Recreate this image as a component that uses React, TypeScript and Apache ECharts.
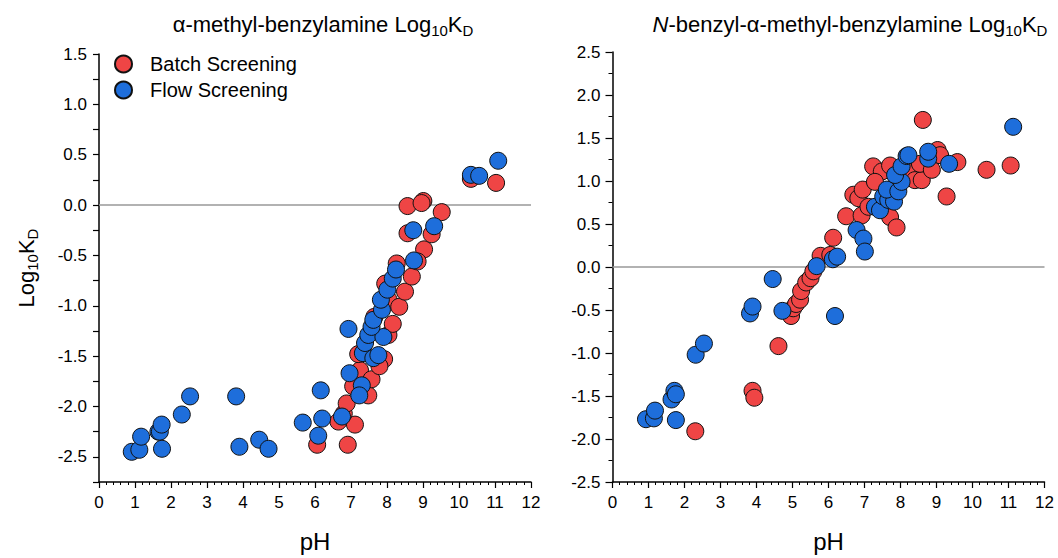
import React, { useEffect, useRef } from "react";
import * as echarts from "echarts";

// α-methyl-benzylamine (left panel)
const leftBatchPH = [6.06, 6.91, 6.65, 7.11, 6.80, 6.88, 7.06, 7.25, 7.48, 7.57, 7.20, 7.80, 7.92, 7.65, 8.04, 8.16, 8.04, 8.34, 8.50, 7.95, 8.27, 8.69, 9.03, 8.57, 9.24, 8.57, 9.01, 8.96, 9.52, 10.33, 11.03, 8.85, 7.79];
const leftBatchLogKD = [-2.38, -2.38, -2.15, -2.18, -2.07, -1.97, -1.80, -1.64, -1.89, -1.73, -1.48, -1.57, -1.53, -1.11, -1.29, -1.18, -0.94, -1.01, -0.86, -0.78, -0.58, -0.71, -0.44, -0.28, -0.29, -0.01, 0.04, 0.02, -0.07, 0.26, 0.22, -0.56, -1.60];
const leftFlowPH = [0.91, 1.12, 1.17, 1.65, 1.69, 1.74, 1.75, 2.30, 2.53, 3.81, 3.90, 4.45, 4.71, 5.66, 6.09, 6.16, 6.20, 6.75, 6.96, 7.30, 7.23, 6.93, 7.33, 7.62, 7.76, 7.39, 7.48, 7.90, 7.57, 7.62, 7.86, 7.83, 8.01, 8.16, 8.25, 8.75, 8.73, 9.31, 10.33, 10.56, 11.09];
const leftFlowLogKD = [-2.45, -2.43, -2.30, -2.25, -2.25, -2.18, -2.42, -2.08, -1.90, -1.90, -2.40, -2.33, -2.42, -2.16, -2.29, -1.84, -2.12, -2.10, -1.67, -1.79, -1.89, -1.23, -1.47, -1.52, -1.49, -1.37, -1.29, -1.31, -1.21, -1.14, -1.04, -0.94, -0.84, -0.73, -0.64, -0.55, -0.25, -0.21, 0.30, 0.29, 0.44];

// N-benzyl-α-methyl-benzylamine (right panel)
const rightBatchPH = [2.30, 3.89, 3.94, 4.61, 4.96, 5.02, 5.10, 5.21, 5.24, 5.38, 5.50, 5.58, 5.78, 6.05, 6.13, 6.49, 6.92, 6.69, 6.83, 6.95, 7.11, 7.24, 7.48, 7.29, 7.71, 7.71, 7.89, 8.31, 8.40, 8.59, 8.54, 8.62, 8.87, 9.03, 9.10, 9.28, 9.58, 10.39, 11.06];
const rightBatchLogKD = [-1.91, -1.44, -1.52, -0.92, -0.57, -0.48, -0.43, -0.38, -0.28, -0.18, -0.13, -0.05, 0.13, 0.14, 0.34, 0.59, 0.60, 0.84, 0.80, 0.90, 0.70, 1.17, 1.11, 0.99, 1.18, 0.58, 0.46, 1.11, 1.01, 1.01, 1.20, 1.71, 1.13, 1.36, 1.30, 0.82, 1.22, 1.13, 1.18];
const rightFlowPH = [0.93, 1.15, 1.18, 1.64, 1.72, 1.76, 1.76, 2.31, 2.54, 3.82, 3.89, 4.45, 4.72, 5.67, 6.18, 6.12, 6.24, 6.78, 6.97, 7.01, 7.29, 7.43, 7.52, 7.66, 7.82, 7.62, 7.94, 8.03, 7.85, 8.03, 8.17, 8.22, 8.77, 8.77, 9.35, 11.13];
const rightFlowLogKD = [-1.77, -1.76, -1.67, -1.54, -1.44, -1.48, -1.78, -1.02, -0.89, -0.54, -0.46, -0.14, -0.51, 0.01, -0.57, 0.09, 0.12, 0.43, 0.33, 0.18, 0.70, 0.66, 0.82, 0.78, 0.76, 0.90, 0.88, 0.99, 1.07, 1.17, 1.29, 1.30, 1.26, 1.34, 1.20, 1.63];

const seriesNames = ["Batch Screening", "Flow Screening"];
const xTicks = { min: 0, max: 12, interval: 1 };
const leftY = { min: -2.75, max: 1.5, interval: 0.25 };
const rightY = { min: -2.5, max: 2.5, interval: 0.5 };

const FONT = "Liberation Sans, Arial, sans-serif";
const RED = "#EF4545";
const BLUE = "#1E6EDB";

const zip = (xs: number[], ys: number[]) => xs.map((x, i) => [x, ys[i]]);

export default function App() {
  const ref = useRef<HTMLDivElement>(null);
  useEffect(() => {
    const chart = echarts.init(ref.current!, null, { renderer: "svg" });

    const xAxisBase = (gridIndex: number) => ({
      type: "value",
      gridIndex,
      min: xTicks.min,
      max: xTicks.max,
      interval: xTicks.interval,
      name: "pH",
      nameLocation: "middle",
      nameGap: 47,
      nameTextStyle: { fontSize: 24, color: "#000", fontFamily: FONT },
      axisLine: { show: true, onZero: false, lineStyle: { color: "#000", width: 1.5 } },
      axisTick: { show: true, inside: false, length: 6, lineStyle: { color: "#000", width: 1.2 } },
      minorTick: { show: true, splitNumber: 5, length: 3, lineStyle: { color: "#000", width: 1 } },
      axisLabel: { color: "#000", fontSize: 17, fontFamily: FONT, margin: 12 },
      splitLine: { show: false },
      minorSplitLine: { show: false },
    });

    const labelFmt = (v: number) =>
      Math.abs(v * 2 - Math.round(v * 2)) < 1e-6 ? v.toFixed(1) : "";

    const ySub = {
      a: { fontSize: 22, color: "#000", fontFamily: FONT, fontWeight: "normal", lineHeight: 27 },
      s: { fontSize: 15, color: "#000", fontFamily: FONT, fontWeight: "normal", lineHeight: 8, verticalAlign: "bottom" },
    };

    const titleRich = {
      a: { fontSize: 22, color: "#000", fontFamily: FONT, fontWeight: "normal", lineHeight: 27 },
      i: { fontSize: 22, color: "#000", fontFamily: FONT, fontWeight: "normal", lineHeight: 27, fontStyle: "italic" },
      s: { fontSize: 15, color: "#000", fontFamily: FONT, fontWeight: "normal", lineHeight: 8, verticalAlign: "bottom" },
    };

    const scatter = (name: string, idx: number, data: number[][], color: string) => ({
      type: "scatter",
      name,
      xAxisIndex: idx,
      yAxisIndex: idx,
      data,
      symbol: "circle",
      symbolSize: 17,
      z: 3,
      itemStyle: { color, borderColor: "#111", borderWidth: 1, opacity: 1 },
    });

    const zeroLine = (idx: number) => ({
      type: "line",
      name: "zero",
      xAxisIndex: idx,
      yAxisIndex: idx,
      data: [[xTicks.min, 0], [xTicks.max, 0]],
      symbol: "none",
      silent: true,
      z: 1,
      lineStyle: { color: "#999", width: 1.5 },
    });

    chart.setOption({
      animation: false,
      backgroundColor: "#fff",
      title: [
        {
          text: "{a|α-methyl-benzylamine Log}{s|10}{a|K}{s|D}",
          left: 318,
          top: 6,
          textAlign: "center",
          textStyle: { fontWeight: "normal", fontSize: 22, rich: titleRich },
        },
        {
          text: "{i|N}{a|-benzyl-α-methyl-benzylamine Log}{s|10}{a|K}{s|D}",
          left: 845,
          top: 6,
          textAlign: "center",
          textStyle: { fontWeight: "normal", fontSize: 22, rich: titleRich },
        },
      ],
      legend: {
        data: seriesNames,
        orient: "vertical",
        left: 109,
        top: 49,
        itemWidth: 17,
        itemHeight: 17,
        itemGap: 6,
        icon: "circle",
        textStyle: { fontSize: 20, color: "#000", fontFamily: FONT, padding: [0, 0, 0, 13] },
      },
      grid: [
        { left: 99, width: 432, top: 54, height: 428 },
        { left: 612.5, width: 432, top: 52, height: 430 },
      ],
      xAxis: [xAxisBase(0), xAxisBase(1)],
      yAxis: [
        {
          type: "value",
          gridIndex: 0,
          min: leftY.min,
          max: leftY.max,
          interval: leftY.interval,
          name: "{a|Log}{s|10}{a|K}{s|D}",
          nameLocation: "middle",
          nameGap: 59,
          nameRotate: 90,
          nameTextStyle: { rich: ySub },
          axisLine: { show: true, onZero: false, lineStyle: { color: "#000", width: 1.5 } },
          axisTick: { show: true, inside: false, length: 6, lineStyle: { color: "#000", width: 1.2 } },
          axisLabel: { color: "#000", fontSize: 17, fontFamily: FONT, margin: 12, formatter: labelFmt },
          splitLine: { show: false },
        },
        {
          type: "value",
          gridIndex: 1,
          min: rightY.min,
          max: rightY.max,
          interval: rightY.interval,
          axisLine: { show: true, onZero: false, lineStyle: { color: "#000", width: 1.5 } },
          axisTick: { show: true, inside: false, length: 7, lineStyle: { color: "#000", width: 1.2 } },
          minorTick: { show: true, splitNumber: 2, length: 4, lineStyle: { color: "#000", width: 1 } },
          axisLabel: { color: "#000", fontSize: 17, fontFamily: FONT, margin: 12, formatter: labelFmt },
          splitLine: { show: false },
          minorSplitLine: { show: false },
        },
      ],
      series: [
        zeroLine(0),
        zeroLine(1),
        scatter(seriesNames[0], 0, zip(leftBatchPH, leftBatchLogKD), RED),
        scatter(seriesNames[1], 0, zip(leftFlowPH, leftFlowLogKD), BLUE),
        scatter(seriesNames[0], 1, zip(rightBatchPH, rightBatchLogKD), RED),
        scatter(seriesNames[1], 1, zip(rightFlowPH, rightFlowLogKD), BLUE),
      ],
    });
    return () => chart.dispose();
  }, []);
  return (
    <div
      ref={ref}
      style={{ position: "fixed", left: 0, top: 0, width: 1058, height: 558, background: "#fff" }}
    />
  );
}
